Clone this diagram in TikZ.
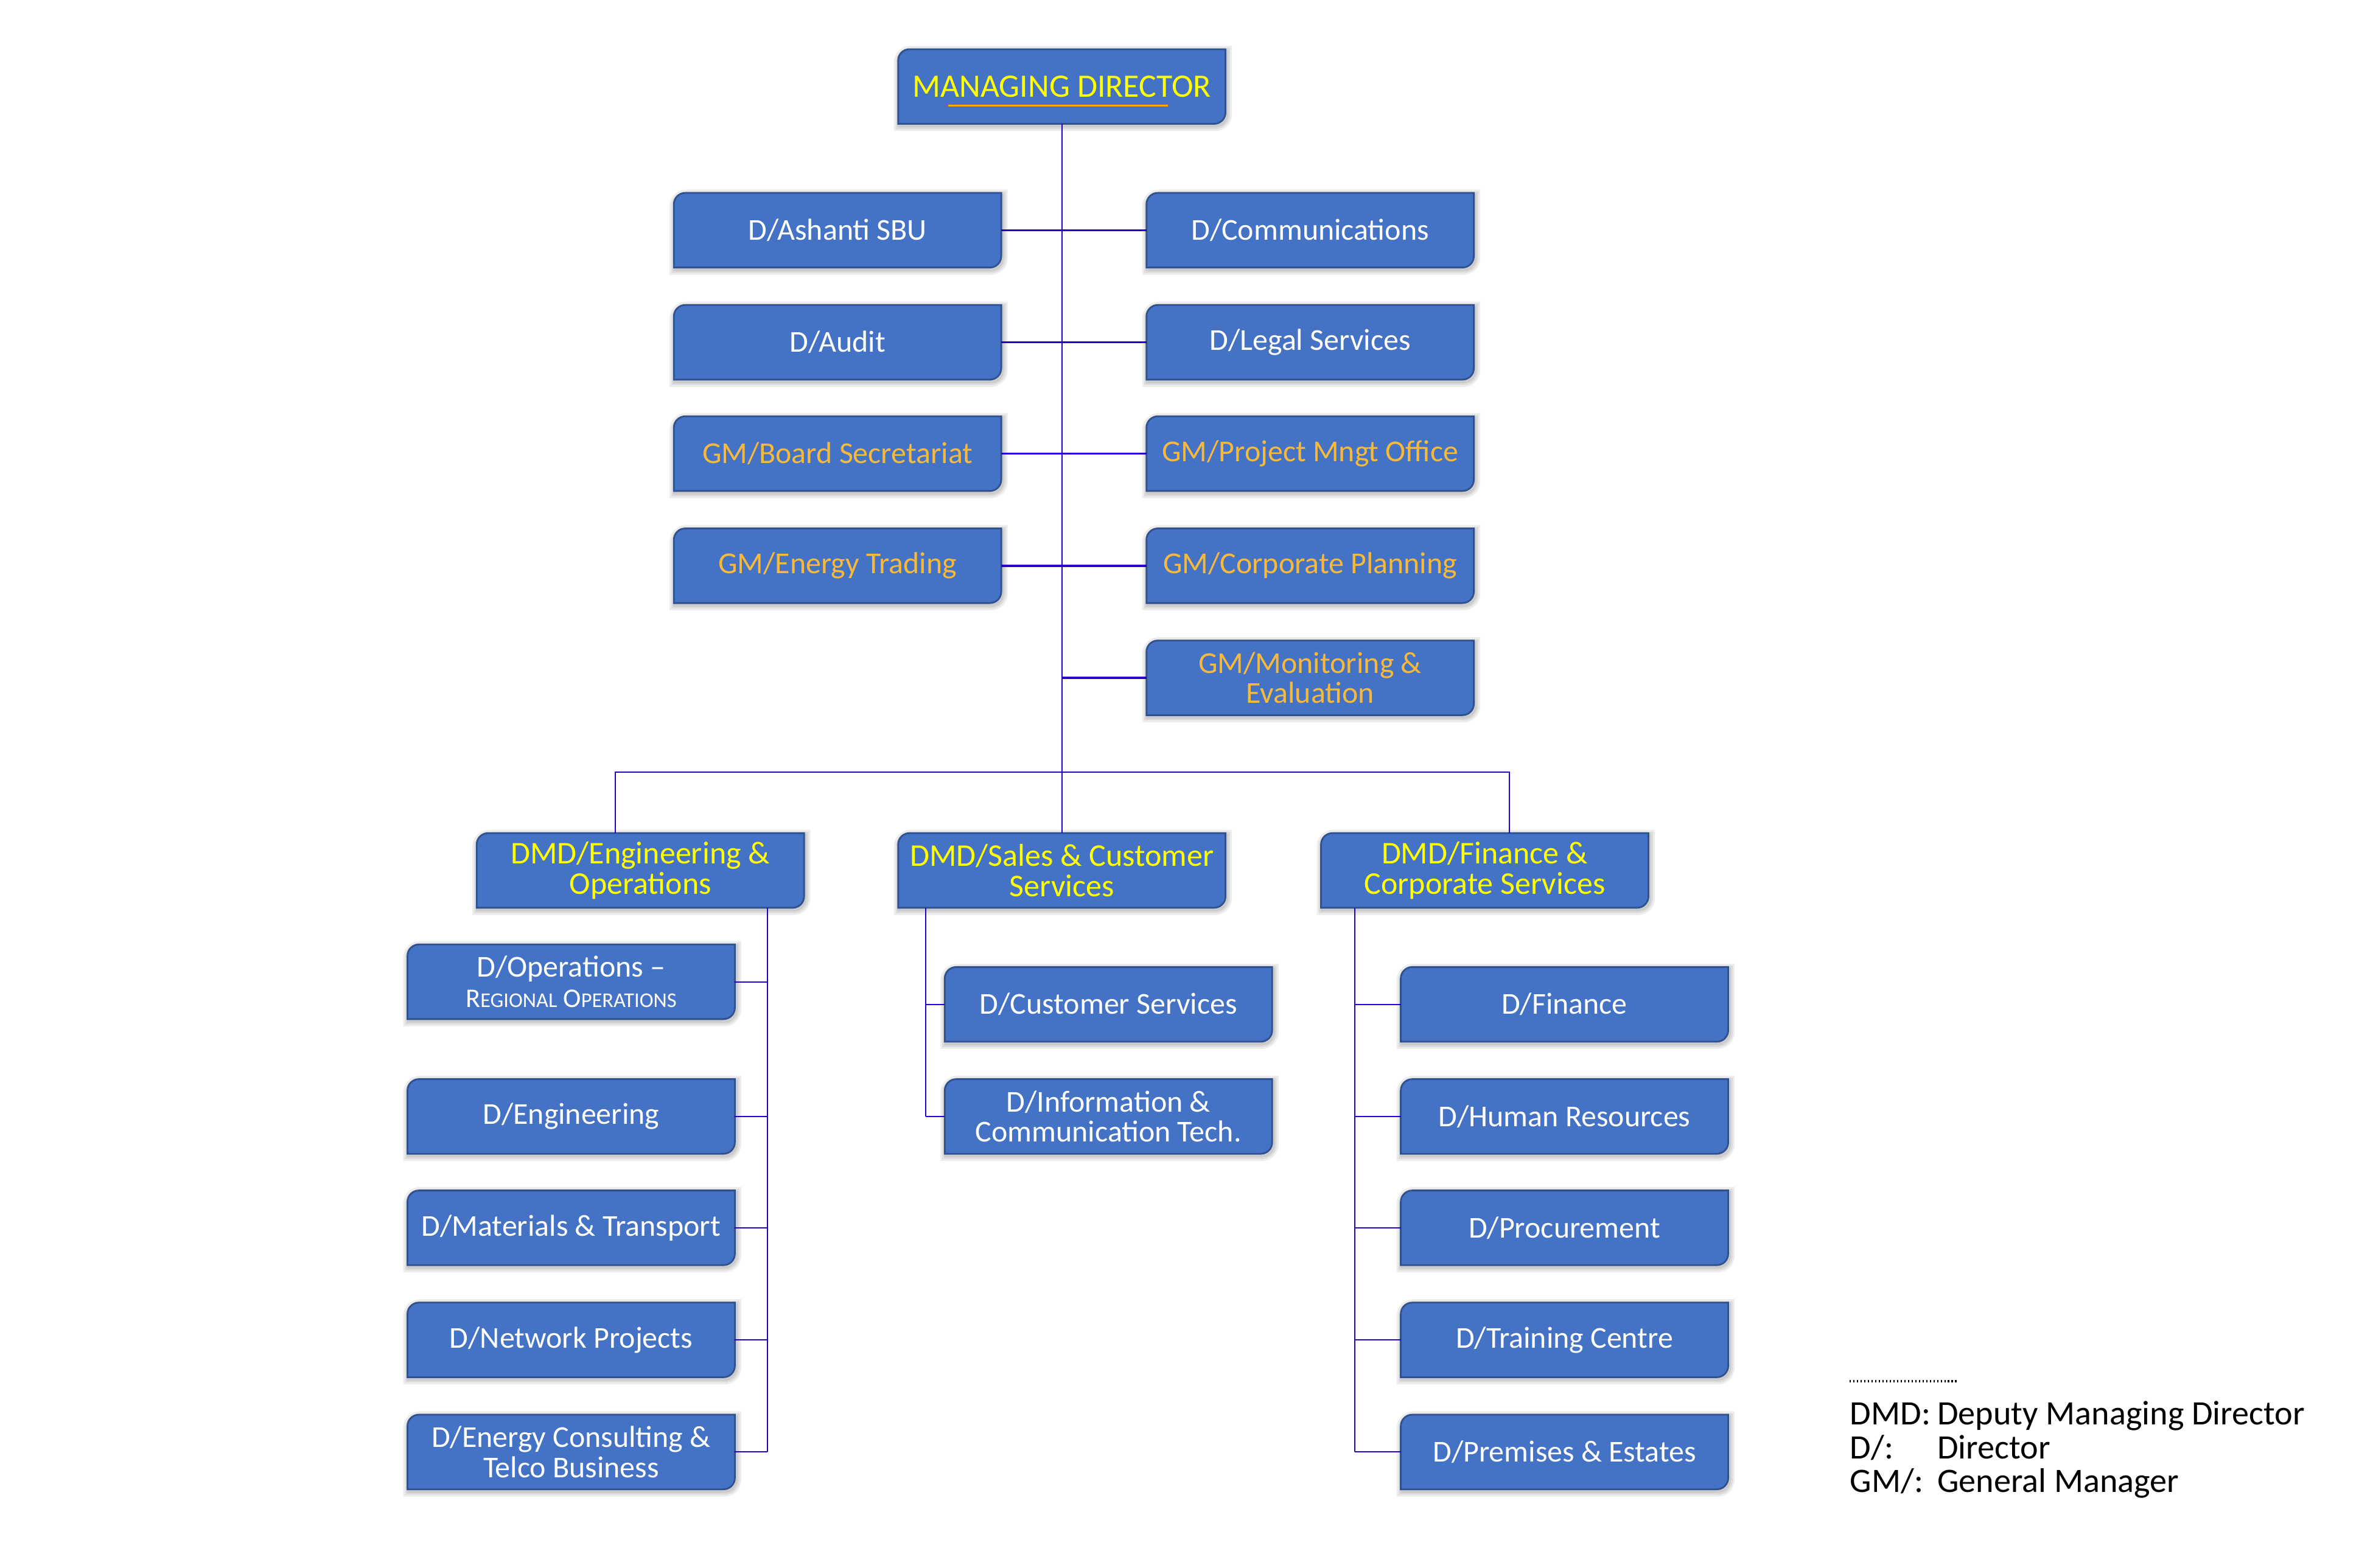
\documentclass[tikz,border=0pt]{standalone}
\usepackage{fontspec}
\setmainfont{Carlito}
\usetikzlibrary{calc,backgrounds}
\pgfdeclarelayer{bottom}
\pgfsetlayers{bottom,background,main}
\definecolor{boxfill}{HTML}{4472C4}
\definecolor{boxline}{HTML}{2F528F}
\definecolor{conn}{RGB}{40,0,205}
\definecolor{gmtext}{RGB}{247,185,60}
\definecolor{mdtext}{RGB}{255,255,0}
\definecolor{uline}{RGB}{255,170,0}
\newcommand\orgbox[5][boxtxt]{%
  \node[#1, text=#4] (#2) at (#3) {#5};
  \begin{scope}[on background layer]
    \path[boxshape] ($(#2.north west)+(0pt,-5.3pt)$) arc[start angle=180,end angle=90,radius=5.3pt]
      -- (#2.north east) -- ($(#2.south east)+(0pt,5.3pt)$) arc[start angle=0,end angle=-90,radius=5.3pt]
      -- (#2.south west) -- cycle;
  \end{scope}}
\begin{document}
\begin{tikzpicture}[x=0.024728cm,y=-0.024728cm,
  boxtxt/.style={inner sep=0pt, minimum width=5.366cm, minimum height=1.212cm, align=center,
    font=\fontsize{14.2}{14.1}\selectfont},
  dmdtxt/.style={boxtxt, font=\fontsize{14.8}{14.1}\selectfont},
  mdtxt/.style={boxtxt, font=\fontsize{15.3}{14.1}\selectfont},
  shadowring/.style={draw=black, line width=#1, opacity=0.07,
    transform canvas={xshift=0.5pt, yshift=-0.9pt}},
  boxshape/.style={fill=boxfill, draw=boxline, line width=0.8pt,
    preaction={shadowring=5pt}, preaction={shadowring=3.2pt}, preaction={shadowring=1.6pt}},
  link/.style={draw=conn, line width=0.6pt},
  hlink/.style={draw=conn, line width=1.0pt},
  legend/.style={font=\fontsize{16}{15.8}\selectfont, inner sep=0pt, anchor=north west, align=left}]
\begin{pgfonlayer}{bottom}
\fill[white] (0,0) rectangle (1567.4,1041.7);
\end{pgfonlayer}
\useasboundingbox (0,0) rectangle (1567.4,1041.7);
% top
\orgbox[mdtxt]{md}{705.5,57.5}{mdtext}{MANAGING DIRECTOR}
\coordinate (ulA) at (630,70);
\coordinate (ulB) at (776,70);
\draw[uline, line width=0.9pt] (ulA) -- (ulB);
% staff rows
\orgbox{ashanti}{556.5,153}{white}{D/Ashanti SBU}
\orgbox{comms}{870.5,153}{white}{D/Communications}
\orgbox{audit}{556.5,227.5}{white}{D/Audit}
\orgbox{legal}{870.5,227.5}{white}{D/Legal Services}
\orgbox{board}{556.5,301.5}{gmtext}{GM/Board Secretariat}
\orgbox{pmo}{870.5,301.5}{gmtext}{GM/Project Mngt Office}
\orgbox{trading}{556.5,376}{gmtext}{GM/Energy Trading}
\orgbox{planning}{870.5,376}{gmtext}{GM/Corporate Planning}
\orgbox{monitor}{870.5,450.5}{gmtext}{GM/Monitoring \&\\Evaluation}
% DMDs
\orgbox[dmdtxt]{eng}{425.5,578.5}{mdtext}{DMD/Engineering \&\\Operations}
\orgbox[dmdtxt]{sales}{705.5,578.5}{mdtext}{DMD/Sales \& Customer\\Services}
\orgbox[dmdtxt]{fin}{986.5,578.5}{mdtext}{DMD/Finance \&\\Corporate Services}
% engineering children
\orgbox{ops}{379.5,652.5}{white}{D/Operations --\\{\fontsize{12.6}{12}\selectfont R{\fontsize{9.8}{12}\selectfont EGIONAL} O{\fontsize{9.8}{12}\selectfont PERATIONS}}}
\orgbox{engd}{379.5,742}{white}{D/Engineering}
\orgbox{mat}{379.5,816}{white}{D/Materials \& Transport}
\orgbox{net}{379.5,890.5}{white}{D/Network Projects}
\orgbox{telco}{379.5,965}{white}{D/Energy Consulting \&\\Telco Business}
% sales children
\orgbox{cust}{736.5,667.5}{white}{D/Customer Services}
\orgbox{ict}{736.5,742}{white}{D/Information \&\\Communication Tech.}
% finance children
\orgbox{find}{1039.5,667.5}{white}{D/Finance}
\orgbox{hr}{1039.5,742}{white}{D/Human Resources}
\orgbox{proc}{1039.5,816}{white}{D/Procurement}
\orgbox{train}{1039.5,890.5}{white}{D/Training Centre}
\orgbox{prem}{1039.5,965}{white}{D/Premises \& Estates}
% connectors
\begin{scope}[on background layer]
\draw[link] (md.south) -- (sales.north);
\draw[hlink] (ashanti.east) -- (comms.west);
\draw[hlink] (audit.east) -- (legal.west);
\draw[hlink] (board.east) -- (pmo.west);
\draw[hlink] (trading.east) -- (planning.west);
\draw[hlink] (md.south |- monitor.west) -- (monitor.west);
\coordinate (barL) at (409,513);
\coordinate (barR) at (1003,513);
\draw[link] (barL |- eng.north) -- (barL) -- (barR) -- (barR |- fin.north);
% engineering spine
\coordinate (es) at (510,0);
\draw[link] (es |- eng.south) -- (es |- telco.east);
\foreach \c in {ops,engd,mat,net,telco} \draw[link] (\c.east) -- (es |- \c.east);
% sales spine
\coordinate (ss) at (615,0);
\draw[link] (ss |- sales.south) -- (ss |- ict.west);
\foreach \c in {cust,ict} \draw[link] (ss |- \c.west) -- (\c.west);
% finance spine
\coordinate (fs) at (900,0);
\draw[link] (fs |- fin.south) -- (fs |- prem.west);
\foreach \c in {find,hr,proc,train,prem} \draw[link] (fs |- \c.west) -- (\c.west);
\end{scope}
% legend
\coordinate (lgA) at (1229,918);
\coordinate (lgB) at (1301,918);
\draw[black, line width=1.3pt, dash pattern=on 0.6pt off 1.1pt] (lgA) -- (lgB);
\node[legend] (lg) at (1229,931) {\makebox[40.8pt][l]{DMD:}Deputy Managing Director\\
\makebox[40.8pt][l]{D/:}Director\\
\makebox[40.8pt][l]{GM/:}General Manager};
\end{tikzpicture}
\end{document}
